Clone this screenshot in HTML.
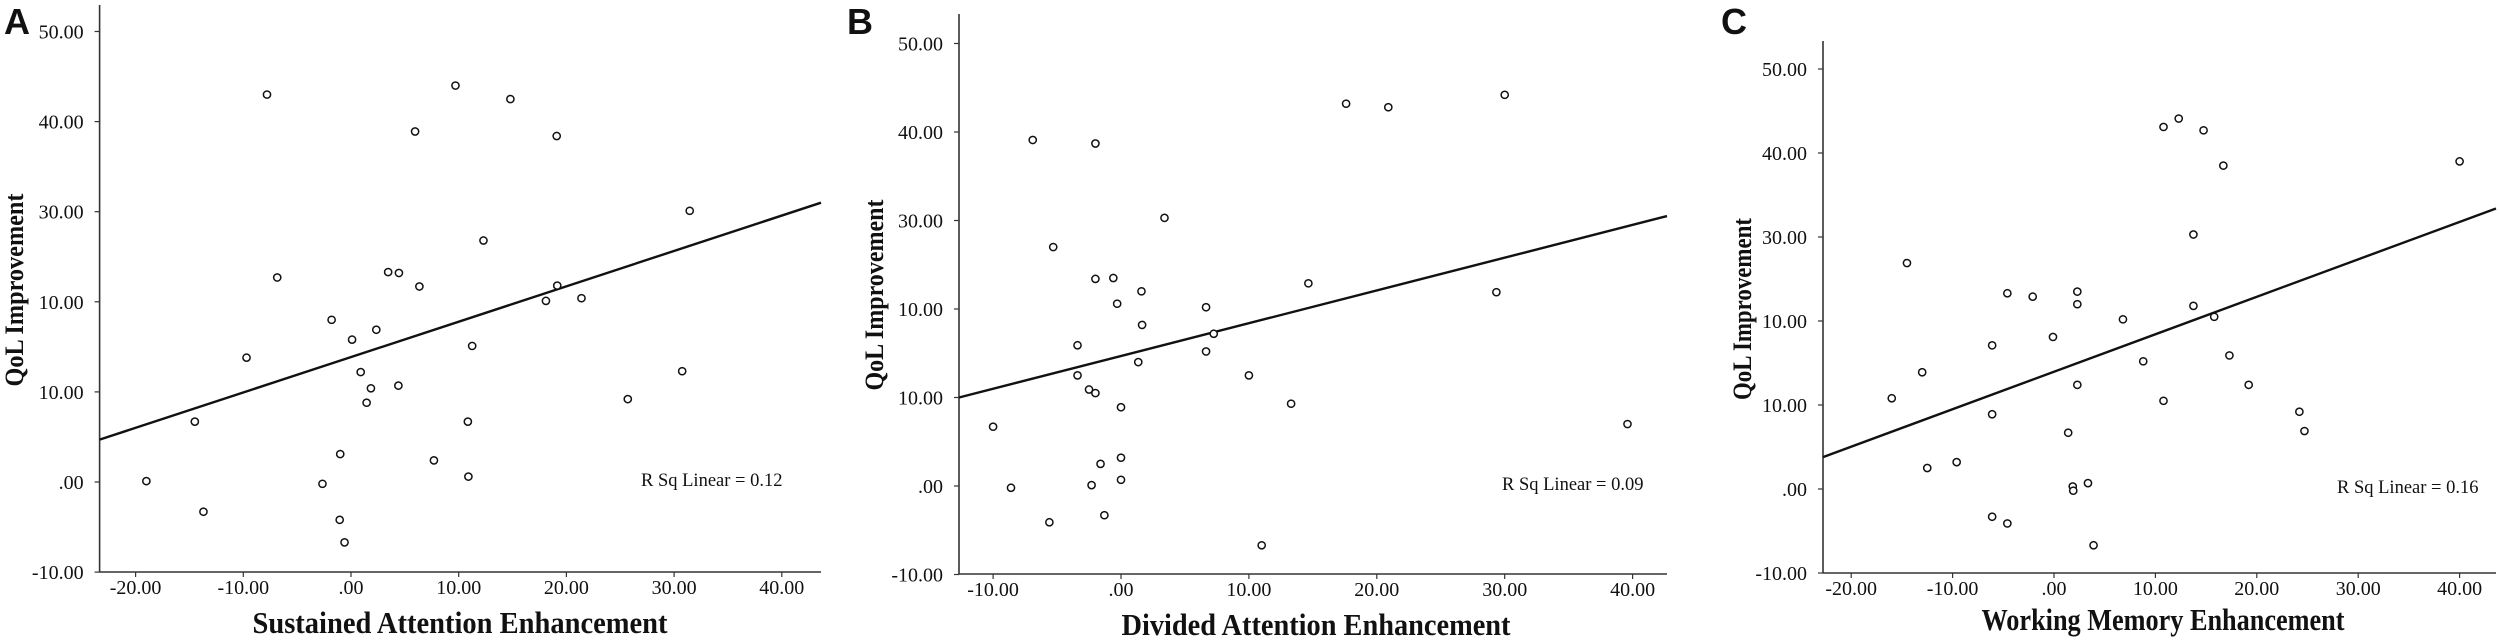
<!DOCTYPE html>
<html><head><meta charset="utf-8"><style>
html,body{margin:0;padding:0;background:#fff;}
svg{display:block;}
text{font-family:"Liberation Serif",serif;fill:#111;}
</style></head><body>
<svg id="chart" width="2500" height="644" viewBox="0 0 2500 644" xmlns="http://www.w3.org/2000/svg"></svg>
<script>
// ---------- data ----------
const yTickValues = [50, 40, 30, 20, 10, 0, -10];
const yTickLabels = ["50.00", "40.00", "30.00", "10.00", "10.00", ".00", "-10.00"];
const xTickValuesA = [-20, -10, 0, 10, 20, 30, 40];
const xTickLabelsA = ["-20.00", "-10.00", ".00", "10.00", "20.00", "30.00", "40.00"];
const xTickValuesB = [-10, 0, 10, 20, 30, 40];
const xTickLabelsB = ["-10.00", ".00", "10.00", "20.00", "30.00", "40.00"];
const xTickValuesC = [-20, -10, 0, 10, 20, 30, 40];
const xTickLabelsC = ["-20.00", "-10.00", ".00", "10.00", "20.00", "30.00", "40.00"];

const sustainedX = [-19.0, -14.5, -13.7, -9.7, -7.8, -6.85, -2.65, -1.8, -1.0, -1.05, -0.6, 0.1, 0.9, 1.45, 1.85, 2.35, 3.45, 4.4, 4.45, 5.95, 6.35, 7.7, 9.7, 10.85, 10.9, 11.25, 12.3, 14.8, 18.1, 19.1, 19.15, 21.4, 25.7, 30.75, 31.45];
const sustainedY = [0.1, 6.7, -3.3, 13.8, 43.0, 22.7, -0.2, 18.0, 3.1, -4.2, -6.7, 15.8, 12.2, 8.8, 10.4, 16.9, 23.3, 10.7, 23.2, 38.9, 21.7, 2.4, 44.0, 6.7, 0.6, 15.1, 26.8, 42.5, 20.1, 38.4, 21.8, 20.4, 9.2, 12.3, 30.1];
const dividedX = [-10.0, -8.6, -6.9, -5.6, -5.3, -3.4, -3.4, -2.5, -2.3, -2.0, -2.0, -2.0, -1.6, -1.3, -0.6, -0.3, 0.0, 0.0, 0.0, 1.35, 1.6, 1.65, 3.4, 6.65, 6.65, 7.25, 10.0, 11.0, 13.3, 14.65, 17.6, 20.9, 29.35, 30.0, 39.6];
const dividedY = [6.7, -0.2, 39.1, -4.1, 27.0, 15.9, 12.5, 10.9, 0.1, 38.7, 10.5, 23.4, 2.5, -3.3, 23.5, 20.6, 8.9, 3.2, 0.7, 14.0, 22.0, 18.2, 30.3, 20.2, 15.2, 17.2, 12.5, -6.7, 9.3, 22.9, 43.2, 42.8, 21.9, 44.2, 7.0];
const workingX = [-16.0, -14.5, -13.0, -12.5, -9.6, -6.1, -6.1, -6.1, -4.6, -4.6, -2.1, -0.1, 1.4, 1.85, 1.9, 2.3, 2.3, 2.3, 3.35, 3.9, 6.8, 8.8, 10.8, 10.8, 12.3, 13.75, 13.75, 14.75, 15.8, 16.7, 17.3, 19.2, 24.2, 24.7, 40.0];
const workingY = [10.8, 26.9, 13.9, 2.5, 3.2, 17.1, 8.9, -3.3, 23.3, -4.1, 22.9, 18.1, 6.7, 0.3, -0.2, 23.5, 22.0, 12.4, 0.7, -6.7, 20.2, 15.2, 43.1, 10.5, 44.1, 30.3, 21.8, 42.7, 20.5, 38.5, 15.9, 12.4, 9.2, 6.9, 39.0];
const fitA = [4.7, 31.0];   // fitted y at domain ends
const fitB = [10.0, 30.5];
const fitC = [3.8, 33.4];
const rsqLabels = ["R Sq Linear = 0.12", "R Sq Linear = 0.09", "R Sq Linear = 0.16"];

// ---------- rendering ----------
const NS = "http://www.w3.org/2000/svg";
const svg = document.getElementById("chart");
function mk(tag, attrs, parent) {
  const e = document.createElementNS(NS, tag);
  for (const k in attrs) e.setAttribute(k, attrs[k]);
  (parent || svg).appendChild(e);
  return e;
}

const panels = [
  {key:"a", letter:"A", lx:4, xs:sustainedX, ys:sustainedY, fit:fitA, xt:xTickValuesA, xl:xTickLabelsA,
   axX:99.6, axTop:5, axBot:572, axRight:821, x0:351, xPer:10.77, y0:482, yPer:9.01,
   title:"Sustained Attention Enhancement", tcx:460, tby:633, tlen:415,
   ytx:23, ytcy:290, ytlen:193, rsx:641, rsy:486, rsq:rsqLabels[0]},
  {key:"b", letter:"B", lx:847, xs:dividedX, ys:dividedY, fit:fitB, xt:xTickValuesB, xl:xTickLabelsB,
   axX:959, axTop:14, axBot:574, axRight:1667, x0:1121, xPer:12.79, y0:486, yPer:8.85,
   title:"Divided Attention Enhancement", tcx:1316, tby:635, tlen:389,
   ytx:883, ytcy:295, ytlen:191, rsx:1502, rsy:490, rsq:rsqLabels[1]},
  {key:"c", letter:"C", lx:1721, xs:workingX, ys:workingY, fit:fitC, xt:xTickValuesC, xl:xTickLabelsC,
   axX:1823, axTop:41, axBot:573, axRight:2496, x0:2054, xPer:10.14, y0:489, yPer:8.40,
   title:"Working Memory Enhancement", tcx:2163, tby:630, tlen:363,
   ytx:1751, ytcy:309, ytlen:182, rsx:2337, rsy:493, rsq:rsqLabels[2]}
];

panels.forEach(p => {
  const g = mk("g", {});
  
  
  const sx = v => p.x0 + v * p.xPer;
  const sy = v => p.y0 - v * p.yPer;
  const xMin = (p.axX - p.x0) / p.xPer, xMax = (p.axRight - p.x0) / p.xPer;

  const letter = mk("text", {x:p.lx, y:34, "font-size":36, "font-weight":"bold", style:'font-family:"Liberation Sans",sans-serif'}, g);
  letter.textContent = p.letter;
  
  

  const yax = mk("line", {x1:p.axX, y1:p.axTop, x2:p.axX, y2:p.axBot, stroke:"#333", "stroke-width":1.6}, g);
  
  
  const xax = mk("line", {x1:p.axX, y1:p.axBot, x2:p.axRight, y2:p.axBot, stroke:"#333", "stroke-width":1.6}, g);
  
  

  yTickValues.forEach((v, i) => {
    const y = sy(v);
    const tk = mk("line", {x1:p.axX - 5, y1:y, x2:p.axX, y2:y, stroke:"#333", "stroke-width":1.2}, g);
    
    
    const t = mk("text", {x:p.axX - 16, y:y + 7, "font-size":20, "text-anchor":"end"}, g);
    t.textContent = yTickLabels[i];
    
    
  });
  p.xt.forEach((v, i) => {
    const x = sx(v);
    const tk = mk("line", {x1:x, y1:p.axBot, x2:x, y2:p.axBot + 5, stroke:"#333", "stroke-width":1.2}, g);
    
    
    const t = mk("text", {x:x, y:p.axBot + 22, "font-size":20, "text-anchor":"middle"}, g);
    t.textContent = p.xl[i];
    
    
  });

  const fl = mk("line", {x1:sx(xMin), y1:sy(p.fit[0]), x2:sx(xMax), y2:sy(p.fit[1]), stroke:"#111", "stroke-width":2.4}, g);
  
  

  p.xs.forEach((v, i) => {
    const c = mk("circle", {cx:sx(v), cy:sy(p.ys[i]), r:3.6, fill:"#fff", stroke:"#111", "stroke-width":1.5}, g);
    
    
  });

  const rs = mk("text", {x:p.rsx, y:p.rsy, "font-size":18.5}, g);
  rs.textContent = p.rsq;
  
  

  const xt = mk("text", {x:p.tcx, y:p.tby, "font-size":31, "font-weight":"bold", "text-anchor":"middle", textLength:p.tlen, lengthAdjust:"spacingAndGlyphs"}, g);
  xt.textContent = p.title;
  
  

  const yt = mk("text", {x:0, y:0, "font-size":26, "font-weight":"bold", "text-anchor":"middle", textLength:p.ytlen, lengthAdjust:"spacingAndGlyphs", transform:"translate(" + p.ytx + "," + p.ytcy + ") rotate(-90)"}, g);
  yt.textContent = "QoL Improvement";
  
  
});
</script>
</body></html>
